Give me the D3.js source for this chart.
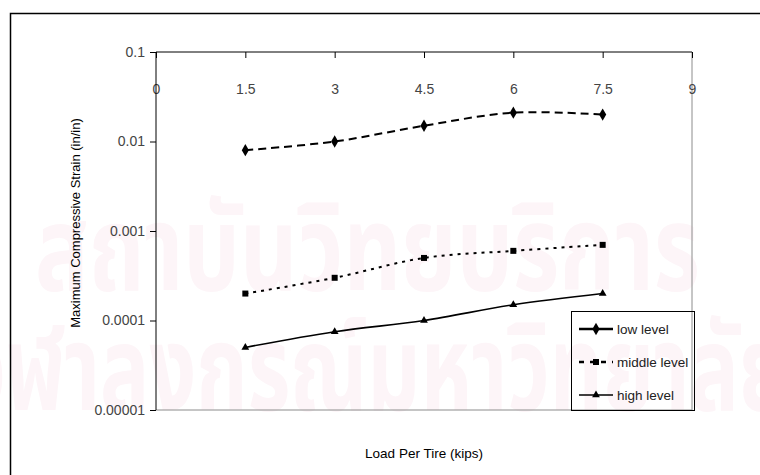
<!DOCTYPE html>
<html>
<head>
<meta charset="utf-8">
<script src="https://cdn.jsdelivr.net/npm/d3@7"></script>
<style>
  body { margin: 0; background: #fff; }
  svg text { font-family: "Liberation Sans", Arial, sans-serif; }
</style>
</head>
<body>
<div id="chart"></div>
<script>
// load per tire (kips)
var loads = [1.5, 3, 4.5, 6, 7.5];
var xTicks = [0, 1.5, 3, 4.5, 6, 7.5, 9];
var yTicks = [0.1, 0.01, 0.001, 0.0001, 0.00001];
var yTickLabels = ["0.1", "0.01", "0.001", "0.0001", "0.00001"];

// maximum compressive strain (in/in)
var lowLevel = [0.008, 0.01, 0.015, 0.021, 0.02];
var middleLevel = [0.0002, 0.0003, 0.0005, 0.0006, 0.0007];
var highLevel = [0.00005, 0.000075, 0.0001, 0.00015, 0.0002];

var seriesNames = ["low level", "middle level", "high level"];

var width = 760, height = 475;
var margin = {top: 52, right: 68, bottom: 65, left: 156};
var plotW = width - margin.left - margin.right,
    plotH = height - margin.top - margin.bottom;

var svg = d3.select("#chart")
    .append("svg")
    .attr("width", width)
    .attr("height", height);

// faint watermark behind the chart
svg.append("text")
    .attr("x", 35)
    .attr("y", 290)
    .attr("textLength", 665)
    .attr("lengthAdjust", "spacingAndGlyphs")
    .style("font-family", "'Noto Sans Thai', 'DejaVu Sans', sans-serif")
    .style("font-size", "120px")
    .style("font-weight", "bold")
    .style("fill", "#fdf5f8")
    .text("สถาบันวิทยบริการ");

svg.append("text")
    .attr("x", -40)
    .attr("y", 410)
    .attr("textLength", 830)
    .attr("lengthAdjust", "spacingAndGlyphs")
    .style("font-family", "'Noto Sans Thai', 'DejaVu Sans', sans-serif")
    .style("font-size", "120px")
    .style("font-weight", "bold")
    .style("fill", "#fdf5f8")
    .text("จุฬาลงกรณ์มหาวิทยาลัย");

// outer chart border (runs off the right and bottom edge)
svg.append("rect")
    .attr("x", 10.5)
    .attr("y", 13.5)
    .attr("width", 780)
    .attr("height", 500)
    .style("fill", "none")
    .style("stroke", "#000")
    .style("stroke-width", 1.5);

var g = svg.append("g")
    .attr("transform", "translate(" + margin.left + "," + margin.top + ")");

var x = d3.scaleLinear()
    .domain([0, 9])
    .range([0, plotW]);

var y = d3.scaleLog()
    .domain([0.00001, 0.1])
    .range([plotH, 0]);

// right and bottom plot border, grey
g.append("path")
    .attr("d", "M" + plotW + ",0V" + plotH + "H0")
    .style("fill", "none")
    .style("stroke", "#8c8c8c")
    .style("stroke-width", 1);

// x axis sits on top, ticks point down into the plot
var xAxis = g.append("g")
    .call(d3.axisBottom(x)
        .tickValues(xTicks)
        .tickSize(6)
        .tickPadding(26)
        .tickFormat(function (d) { return String(d); }));
xAxis.select(".domain").remove();
xAxis.selectAll(".tick line").style("stroke", "#000");
xAxis.selectAll(".tick text")
    .style("font-size", "14px")
    .style("fill", "#444");
g.append("line")
    .attr("x1", 0).attr("x2", plotW)
    .attr("y1", 0).attr("y2", 0)
    .style("stroke", "#000");

var yAxis = g.append("g")
    .call(d3.axisLeft(y)
        .tickValues(yTicks)
        .tickSize(6)
        .tickPadding(5)
        .tickFormat(function (d, i) { return yTickLabels[i]; }));
yAxis.select(".domain")
    .attr("d", "M0,0V" + plotH)
    .style("stroke", "#000");
yAxis.selectAll(".tick text")
    .style("font-size", "14px")
    .style("fill", "#444");

// axis titles
g.append("text")
    .attr("transform", "rotate(-90)")
    .attr("x", -(223 - margin.top))
    .attr("y", 75 - margin.left)
    .attr("dy", "0.35em")
    .style("text-anchor", "middle")
    .style("font-size", "13px")
    .text("Maximum Compressive Strain (in/in)");

g.append("text")
    .attr("x", 424 - margin.left)
    .attr("y", 458 - margin.top)
    .style("text-anchor", "middle")
    .style("font-size", "13.5px")
    .text("Load Per Tire (kips)");

var series = [
    {name: seriesNames[0], values: lowLevel, dash: "8,5", width: 2, symbol: d3.symbolDiamond, size: 44},
    {name: seriesNames[1], values: middleLevel, dash: "3,5", width: 2, symbol: d3.symbolSquare, size: 36},
    {name: seriesNames[2], values: highLevel, dash: null, width: 1.6, symbol: d3.symbolTriangle, size: 26}
];

var line = d3.line()
    .x(function (d) { return x(d[0]); })
    .y(function (d) { return y(d[1]); })
    .curve(d3.curveCardinal.tension(0));

series.forEach(function (s) {
    var pts = loads.map(function (l, i) { return [l, s.values[i]]; });
    g.append("path")
        .datum(pts)
        .attr("d", line)
        .style("fill", "none")
        .style("stroke", "#000")
        .style("stroke-width", s.width)
        .style("stroke-dasharray", s.dash);
    g.selectAll(null)
        .data(pts)
        .enter()
        .append("path")
        .attr("transform", function (d) { return "translate(" + x(d[0]) + "," + y(d[1]) + ")"; })
        .attr("d", d3.symbol().type(s.symbol).size(s.size))
        .style("fill", "#000");
});

// legend
var legend = svg.append("g")
    .attr("transform", "translate(571,311)");
legend.append("rect")
    .attr("x", 0.5).attr("y", 0.5)
    .attr("width", 123).attr("height", 99)
    .style("fill", "none")
    .style("stroke", "#000");

var legendDash = [null, "5,6", null];
series.forEach(function (s, i) {
    var ly = 18 + i * 33;
    legend.append("line")
        .attr("x1", 8).attr("x2", 42)
        .attr("y1", ly).attr("y2", ly)
        .style("stroke", "#000")
        .style("stroke-width", i === 2 ? 1.6 : 2.5)
        .style("stroke-dasharray", legendDash[i]);
    legend.append("path")
        .attr("transform", "translate(25," + ly + ")")
        .attr("d", d3.symbol().type(s.symbol).size(s.size))
        .style("fill", "#000");
    legend.append("text")
        .attr("x", 46)
        .attr("y", ly)
        .attr("dy", "0.35em")
        .style("font-size", "13.5px")
        .style("fill", "#222")
        .text(s.name);
});
</script>
</body>
</html>
